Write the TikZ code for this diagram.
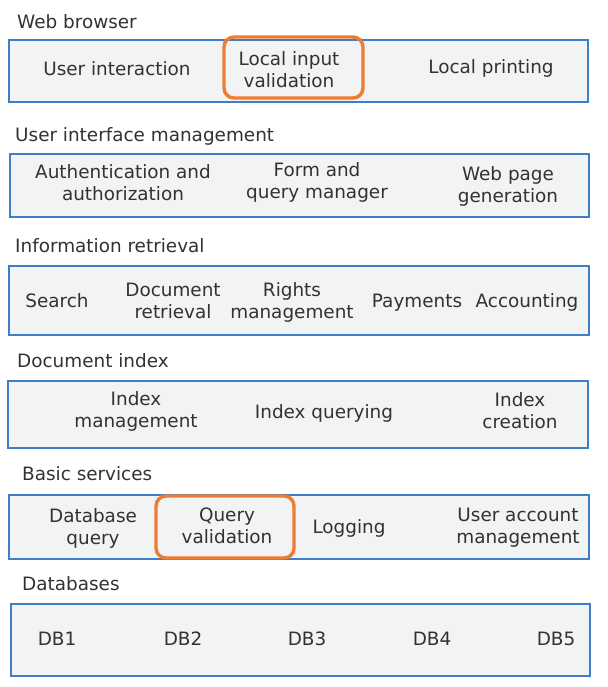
\documentclass[tikz,border=0pt]{standalone}
\usepackage{fontspec}
\setmainfont{DejaVu Sans}
\definecolor{boxblue}{RGB}{62,126,198}
\definecolor{boxfill}{RGB}{242,243,245}
\definecolor{hlorange}{RGB}{237,125,49}
\definecolor{txt}{RGB}{50,50,50}
\begin{document}
\begin{tikzpicture}[x=1pt,y=-1pt,
  font=\fontsize{18.4}{22}\selectfont, text=txt,
  layer/.style={draw=boxblue, line width=2.2pt, fill=boxfill},
  hl/.style={draw=hlorange, line width=3.4pt, rounded corners=10pt},
  title/.style={anchor=base west, inner sep=0pt},
  item/.style={align=center, inner sep=0pt, anchor=center}]
\useasboundingbox (0,0) rectangle (607,687);
% layers
\draw[layer] (9,40) rectangle (588,102);
\draw[layer] (10,154) rectangle (589,217);
\draw[layer] (9,266) rectangle (589,335);
\draw[layer] (8,381) rectangle (588,448);
\draw[layer] (9,495) rectangle (589,559);
\draw[layer] (11,604) rectangle (590,676);
% highlights
\draw[hl] (224,37) rectangle (363,98);
\draw[hl] (156,496) rectangle (294,558);
% titles
\node[title] (t1) at (17,29) {Web browser};
\node[title] (t2) at (15,142) {User interface management};
\node[title] (t3) at (15,252) {Information retrieval};
\node[title] (t4) at (17,367) {Document index};
\node[title] (t5) at (22,480) {Basic services};
\node[title] (t6) at (22,590) {Databases};
% layer 1
\node[item] (a1) at (117,70.7) {\strut User interaction};
\node[item] (a2) at (289,71.7) {\strut Local input\\\strut validation};
\node[item] (a3) at (491,68.7) {\strut Local printing};
% layer 2
\node[item] (b1) at (123,184.7) {\strut Authentication and\\\strut authorization};
\node[item] (b2) at (317,183.2) {\strut Form and\\\strut query manager};
\node[item] (b3) at (508,186.7) {\strut Web page\\\strut generation};
% layer 3
\node[item] (c1) at (57,302.7) {\strut Search};
\node[item] (c2) at (173,303.2) {\strut Document\\\strut retrieval};
\node[item] (c3) at (292,303.2) {\strut Rights\\\strut management};
\node[item] (c4) at (417,302.7) {\strut Payments};
\node[item] (c5) at (527,302.7) {\strut Accounting};
% layer 4
\node[item] (d1) at (136,411.7) {\strut Index\\\strut management};
\node[item] (d2) at (324,413.7) {\strut Index querying};
\node[item] (d3) at (520,413.2) {\strut Index\\\strut creation};
% layer 5
\node[item] (e1) at (93,528.7) {\strut Database\\\strut query};
\node[item] (e2) at (227,528.2) {\strut Query\\\strut validation};
\node[item] (e3) at (349,528.7) {\strut Logging};
\node[item] (e4) at (518,528.2) {\strut User account\\\strut management};
% layer 6
\node[item] (f1) at (57,640.7) {\strut DB1};
\node[item] (f2) at (183,640.7) {\strut DB2};
\node[item] (f3) at (307,640.7) {\strut DB3};
\node[item] (f4) at (432,640.7) {\strut DB4};
\node[item] (f5) at (556,640.7) {\strut DB5};
\end{tikzpicture}
\end{document}
